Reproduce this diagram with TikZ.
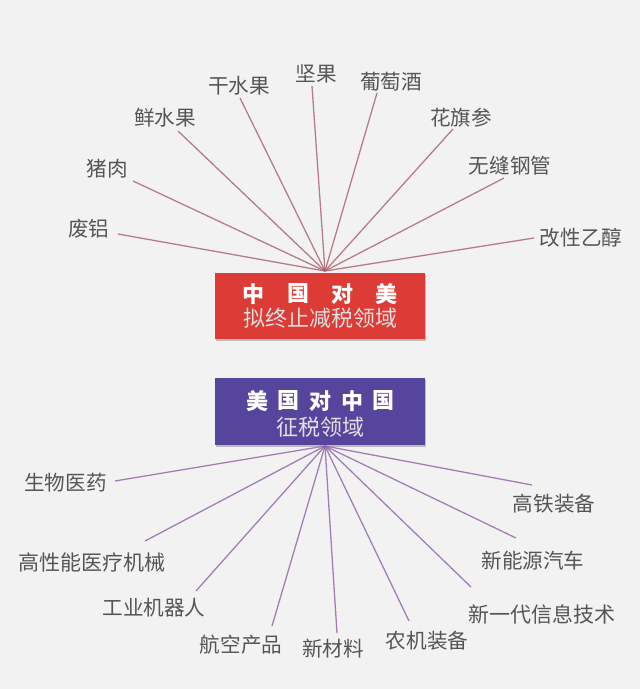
\documentclass[tikz,border=0pt]{standalone}
\usepackage{fontspec}
\setmainfont{Noto Sans CJK SC}
\usetikzlibrary{shadows}
\definecolor{bgc}{HTML}{F2F2F2}
\definecolor{redbox}{HTML}{DC3B36}
\definecolor{purplebox}{HTML}{56459C}
\definecolor{labelc}{HTML}{555555}
\definecolor{redline}{HTML}{A8606C}
\definecolor{purpleline}{HTML}{9060A8}
\tikzset{
  lab/.style={inner sep=0pt,text=labelc,font=\fontsize{20.6}{21}\selectfont,anchor=center},
  labw/.style={lab,font=\fontsize{21}{21}\selectfont},
  boxr/.style={fill=redbox,draw=none,drop shadow={shadow xshift=0.5pt,shadow yshift=-1.5pt,fill=black,opacity=0.22}},
  boxp/.style={fill=purplebox,draw=none,drop shadow={shadow xshift=0.5pt,shadow yshift=-1.5pt,fill=black,opacity=0.22}},
  headt/.style={inner sep=0pt,text=white,font=\fontsize{22}{22}\selectfont\bfseries},
  subt/.style={inner sep=0pt,text=white!88!black,font=\fontsize{22}{22}\selectfont},
  rl/.style={draw=redline,line width=1.3pt,opacity=0.8},
  pl/.style={draw=purpleline,line width=1.3pt,opacity=0.8},
}
\begin{document}
\begin{tikzpicture}[x=1pt,y=-1pt]
\useasboundingbox[fill=bgc] (0,0) rectangle (640,689);
% boxes
\path[boxr] (215,273) rectangle (425,339);
\path[boxp] (215,378) rectangle (425,445);
\node[headt] (h1) at (253,294) {中};
\node[headt] (h2) at (298,294) {国};
\node[headt] (h3) at (342,294) {对};
\node[headt] (h4) at (386,294) {美};
\node[subt] (s1) at (320,318) {拟终止减税领域};
\node[headt] (p1) at (257,401) {美};
\node[headt] (p2) at (288,401) {国};
\node[headt] (p3) at (320,401) {对};
\node[headt] (p4) at (352,401) {中};
\node[headt] (p5) at (383,401) {国};
\node[subt] (s2) at (320,427) {征税领域};
% hubs
\coordinate (hubr) at (325,271);
\coordinate (hubp) at (325,446);
% upper labels
\foreach \n/\t/\x/\y/\ex/\ey in {
  a1/废铝/89/229/118/234,
  a2/猪肉/107/169/133/181,
  a3/鲜水果/165/118/178/131,
  a4/干水果/239/86/240/98,
  a5/坚果/316/74/312/86,
  a6/葡萄酒/391/82/377/93,
  a7/花旗参/461/118/453/129,
  a8/无缝钢管/510/166/504/178,
  a9/改性乙醇/581/238/534/238}{
  \node[lab] (\n) at (\x,\y) {\t};
  \coordinate (\n e) at (\ex,\ey);
  \draw[rl] (\n e) -- (hubr);
}
% lower labels
\foreach \n/\t/\x/\y/\ex/\ey in {
  b1/生物医药/65.5/483/115/481,
  b3/工业机器人/154/608/196/591,
  b4/航空产品/241/645/272/626,
  b5/新材料/333/649/337/633,
  b6/农机装备/427/641/409/621,
  b8/新能源汽车/533/561/516/538,
  b9/高铁装备/554/504/532/485}{
  \node[lab] (\n) at (\x,\y) {\t};
  \coordinate (\n e) at (\ex,\ey);
  \draw[pl] (\n e) -- (hubp);
}
\foreach \n/\t/\x/\y/\ex/\ey in {
  b2/高性能医疗机械/92.5/562/145/541,
  b7/新一代信息技术/541.5/614/471/587}{
  \node[labw] (\n) at (\x,\y) {\t};
  \coordinate (\n e) at (\ex,\ey);
  \draw[pl] (\n e) -- (hubp);
}
\end{tikzpicture}
\end{document}
